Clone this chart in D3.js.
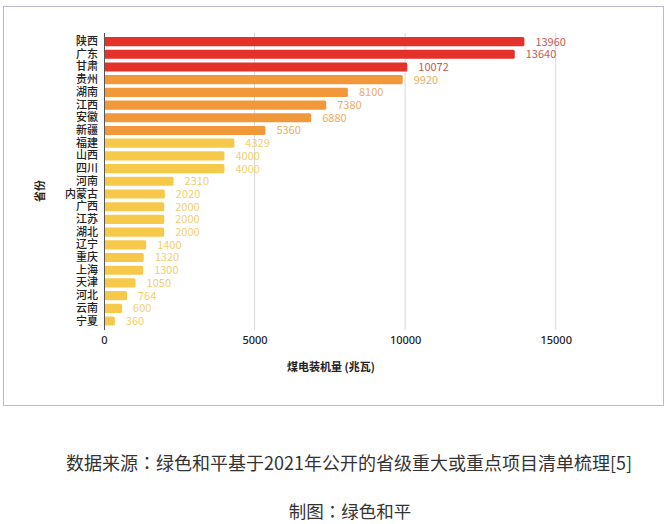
<!DOCTYPE html>
<html><head><meta charset="utf-8">
<script src="https://cdn.jsdelivr.net/npm/d3@7"></script>
<style>
html,body{margin:0;padding:0;background:#fff;}
svg{display:block;font-family:"Noto Sans CJK SC","Noto Sans",sans-serif;}
</style></head>
<body>
<svg id="chart" width="668" height="524"></svg>
<script>
const provinces = ["陕西","广东","甘肃","贵州","湖南","江西","安徽","新疆","福建","山西","四川","河南","内蒙古","广西","江苏","湖北","辽宁","重庆","上海","天津","河北","云南","宁夏"];
const capacity = [13960,13640,10072,9920,8100,7380,6880,5360,4329,4000,4000,2310,2020,2000,2000,2000,1400,1320,1300,1050,764,600,360];
const tier = ["red","red","red","orange","orange","orange","orange","orange","yellow","yellow","yellow","yellow","yellow","yellow","yellow","yellow","yellow","yellow","yellow","yellow","yellow","yellow","yellow"];
const xTicks = [0,5000,10000,15000];
const xTitle = "煤电装机量 (兆瓦)";
const yTitle = "省份";
const source = "数据来源：绿色和平基于2021年公开的省级重大或重点项目清单梳理[5]";
const credit = "制图：绿色和平";

const barColor = {red:"#e4322b", orange:"#f0983a", yellow:"#f7c94b"};
const labelColor = {red:"#c65a52", orange:"#eeac62", yellow:"#f3d06e"};

const svg = d3.select("#chart");
const data = provinces.map((p,i)=>({p, v:capacity[i], t:tier[i]}));

// frame
svg.append("rect").attr("x",3.5).attr("y",6.5).attr("width",660).attr("height",399)
  .attr("fill","none").attr("stroke","#bcb8dc").attr("stroke-width",1);

const x = d3.scaleLinear().domain([0,17500]).range([104,631]);
const y = d3.scaleBand().domain(provinces).range([35.2,327.4]).paddingInner(0.28).paddingOuter(0.14);

// gridlines
svg.append("g").selectAll("line").data(xTicks.filter(d=>d>0)).join("line")
  .attr("x1",d=>x(d)).attr("x2",d=>x(d)).attr("y1",33).attr("y2",330)
  .attr("stroke","#d9d9d9").attr("stroke-width",1);

// bars
svg.append("g").selectAll("rect").data(data).join("rect")
  .attr("x",x(0)).attr("y",d=>y(d.p)).attr("width",d=>x(d.v)-x(0)).attr("height",y.bandwidth())
  .attr("rx",1.5).attr("fill",d=>barColor[d.t]);

// zero axis line
svg.append("line").attr("x1",x(0)+0.5).attr("x2",x(0)+0.5).attr("y1",33).attr("y2",330)
  .attr("stroke","#555").attr("stroke-width",1);

// value labels
svg.append("g").selectAll("text").data(data).join("text")
  .attr("x",d=>x(d.v)+11).attr("y",d=>y(d.p)+y.bandwidth()/2).attr("dy","0.36em")
  .attr("font-size",11).attr("fill",d=>labelColor[d.t]).text(d=>d.v);

// category labels
const yAxis = d3.axisLeft(y).tickSize(0).tickPadding(6);
const yg = svg.append("g").attr("transform",`translate(${x(0)},0)`).call(yAxis);
yg.select(".domain").remove();
yg.selectAll("text").attr("font-size",11).attr("fill","#222").attr("font-family",'"Noto Sans CJK SC",sans-serif').attr("font-weight",500);

// x axis ticks
const xAxis = d3.axisBottom(x).tickValues(xTicks).tickSize(0).tickPadding(0).tickFormat(d3.format("d"));
const xg = svg.append("g").attr("transform","translate(0,336)").call(xAxis);
xg.select(".domain").remove();
xg.selectAll("text").attr("font-size",11).attr("fill","#222").attr("font-family",'"Noto Sans",sans-serif').attr("font-weight",500);

// titles
svg.append("text").attr("x",331).attr("y",371).attr("text-anchor","middle")
  .attr("font-size",11).attr("font-weight",600).attr("fill","#222").text(xTitle);
svg.append("text").attr("transform","translate(44,191) rotate(-90)").attr("text-anchor","middle")
  .attr("font-size",11).attr("font-weight",600).attr("fill","#222").text(yTitle);

// footer (colon rendered with centred full-width form)
function footer(str, cx, cy, fs){
  const t = svg.append("text").attr("x",cx).attr("y",cy).attr("text-anchor","middle")
    .attr("font-size",fs).attr("fill","#333");
  const parts = str.split("：");
  parts.forEach((p,i)=>{
    if(i>0) t.append("tspan").attr("font-family",'"Noto Sans CJK TC",sans-serif').text("：");
    t.append("tspan").text(p);
  });
}
footer(source, 349, 470, 18);
footer(credit, 350, 518, 17.5);
</script>
</body></html>
